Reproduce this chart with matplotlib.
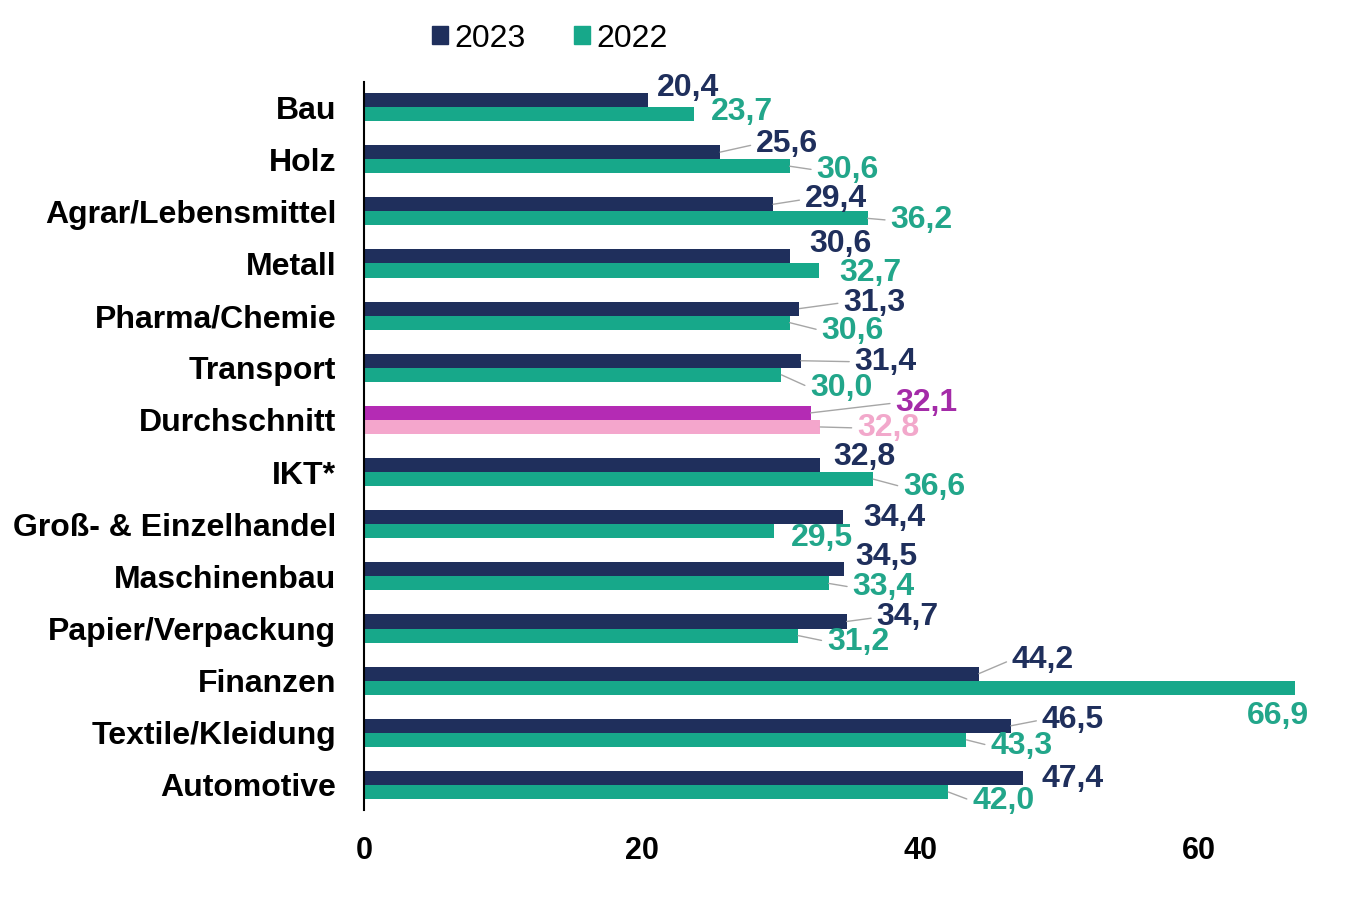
import numpy as np
import matplotlib
matplotlib.use("Agg")
import matplotlib.pyplot as plt
from matplotlib.patches import Patch

plt.rcParams["font.family"] = ["Liberation Sans", "DejaVu Sans"]

categories = ["Bau", "Holz", "Agrar/Lebensmittel", "Metall", "Pharma/Chemie",
              "Transport", "Durchschnitt", "IKT*", "Groß- & Einzelhandel",
              "Maschinenbau", "Papier/Verpackung", "Finanzen",
              "Textile/Kleidung", "Automotive"]
values_2023 = [20.4, 25.6, 29.4, 30.6, 31.3, 31.4, 32.1, 32.8, 34.4, 34.5, 34.7, 44.2, 46.5, 47.4]
values_2022 = [23.7, 30.6, 36.2, 32.7, 30.6, 30.0, 32.8, 36.6, 29.5, 33.4, 31.2, 66.9, 43.3, 42.0]
highlight = "Durchschnitt"

# label offsets in pixels (dx right, dy down) relative to bar end
offsets_2023 = [(40, -12), (67, -8), (63, -5), (51, -12), (75, -6), (85, 1), (116, -10),
                (44, -8), (52, 1), (42, -12), (61, -4), (64, -14), (62, -6), (49, 1)]
offsets_2022 = [(48, -2), (58, 4), (54, 2), (51, 2), (63, 8), (60, 13), (68, 1),
                (61, 8), (48, 7), (55, 4), (60, 6), (-17, 28), (55, 6), (55, 9)]
leader_2023 = [False, True, True, False, True, True, True, False, False, False, True, True, True, False]
leader_2022 = [False, True, True, False, True, True, True, True, False, True, True, False, True, True]

navy = "#1F2F5C"
teal = "#17A88A"
purple = "#B42BB4"
pink = "#F4A6CC"
teal_txt = "#22A68A"
purple_txt = "#A42BA8"
pink_txt = "#F2A8CB"
grey = "#A6A6A6"

fig = plt.figure(figsize=(13.51, 9), dpi=100)
ax = fig.add_axes([364 / 1351, 0.1, 946 / 1351, (810 - 82) / 900])

y = np.arange(len(categories))
h = 0.27
c23 = [purple if c == highlight else navy for c in categories]
c22 = [pink if c == highlight else teal for c in categories]
ax.barh(y - h / 2, values_2023, height=h, color=c23)
ax.barh(y + h / 2, values_2022, height=h, color=c22)

ax.set_xlim(0, 68)
ax.set_ylim(len(categories) - 0.52, -0.48)
ax.set_yticks(y)
ax.set_yticklabels(categories, fontsize=23, fontweight="bold")
ax.set_xticks([0, 20, 40, 60])
ax.tick_params(axis="x", length=0, pad=19, labelsize=22)
ax.tick_params(axis="y", length=0, pad=20)
for lab in ax.get_xticklabels():
    lab.set_fontweight("bold")

for s in ["top", "right", "bottom"]:
    ax.spines[s].set_visible(False)
ax.spines["left"].set_linewidth(1.5)
ax.spines["left"].set_color("black")


def label_bars(vals, ypos, offsets, leaders, colors):
    for v, yy, (dx, dy), lead, col in zip(vals, ypos, offsets, leaders, colors):
        txt = f"{v:.1f}".replace(".", ",")
        props = None
        if lead:
            props = dict(arrowstyle="-", color=grey, lw=1, relpos=(0, 0.5),
                         shrinkA=2, shrinkB=0)
        ax.annotate(txt, xy=(v, yy), xytext=(dx, -dy), textcoords="offset pixels",
                    ha="center", va="center", fontsize=23, fontweight="bold",
                    color=col, arrowprops=props)


t23 = [purple_txt if c == highlight else navy for c in categories]
t22 = [pink_txt if c == highlight else teal_txt for c in categories]
label_bars(values_2023, y - h / 2, offsets_2023, leader_2023, t23)
label_bars(values_2022, y + h / 2, offsets_2022, leader_2022, t22)

handles = [Patch(color=navy, label="2023"), Patch(color=teal, label="2022")]
fig.legend(handles=handles, loc="center", bbox_to_anchor=(0.407, 0.957), ncol=2,
           frameon=False, fontsize=23, handlelength=0.5, handleheight=0.5,
           handletextpad=0.2, columnspacing=1.5)

fig.savefig("out.png", dpi=100)
